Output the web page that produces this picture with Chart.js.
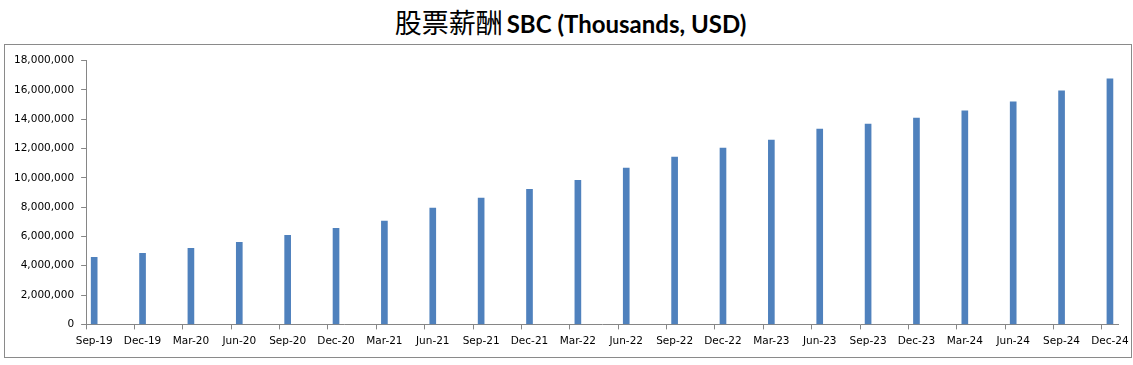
<!DOCTYPE html>
<html>
<head>
<meta charset="utf-8">
<script src="https://cdn.jsdelivr.net/npm/chart.js@4"></script>
<style>
  html, body { margin: 0; padding: 0; background: #fff; }
  body { width: 1133px; height: 365px; position: relative; overflow: hidden; }
  #title {
    position: absolute; left: 4px; top: 0; width: 1133px; height: 44px;
    text-align: center; line-height: 44px; color: #000; white-space: nowrap;
  }
  #title .zh { font-family: "Noto Sans CJK SC", sans-serif; font-size: 27px; font-weight: 400; }
  #title .en { font-family: Lato, "Open Sans", sans-serif; font-size: 24px; font-weight: 700; }
  #frame {
    position: absolute; left: 4px; top: 44px; width: 1126px; height: 312px;
    border: 1px solid #8a8a8a;
  }
  #myChart { display: block; }
</style>
</head>
<body>
<div id="title"><span class="zh">股票薪酬</span> <span class="en">SBC (Thousands, USD)</span></div>
<div id="frame"><canvas id="myChart" width="1126" height="312"></canvas></div>
<script>
// quarterly stock based compensation, thousands of USD
const quarters = ['Sep-19', 'Dec-19', 'Mar-20', 'Jun-20', 'Sep-20', 'Dec-20', 'Mar-21', 'Jun-21',
  'Sep-21', 'Dec-21', 'Mar-22', 'Jun-22', 'Sep-22', 'Dec-22', 'Mar-23', 'Jun-23',
  'Sep-23', 'Dec-23', 'Mar-24', 'Jun-24', 'Sep-24', 'Dec-24'];
const sbc = [4570000, 4850000, 5190000, 5600000, 6080000, 6560000, 7040000, 7930000,
  8610000, 9220000, 9820000, 10660000, 11410000, 12030000, 12580000, 13330000,
  13670000, 14080000, 14560000, 15180000, 15930000, 16750000];
const yTicks = [0, 2000000, 4000000, 6000000, 8000000, 10000000, 12000000, 14000000, 16000000, 18000000];

// the source axis runs by month, with a label every third month
const monthLabels = [];
const monthValues = [];
quarters.forEach((q, i) => {
  monthLabels.push(q);
  monthValues.push(sbc[i]);
  if (i < quarters.length - 1) {
    monthLabels.push('', '');
    monthValues.push(null, null);
  }
});

const axisGrey = '#868686';
const tickFont = { family: 'DejaVu Sans', size: 10.5 };

const config = {
  type: 'bar',
  data: {
    labels: monthLabels,
    datasets: [{
      label: 'SBC',
      data: monthValues,
      backgroundColor: '#4f81bd',
      borderWidth: 0,
      barThickness: 6
    }]
  },
  options: {
    responsive: false,
    animation: false,
    layout: { padding: { left: 2, right: 0, top: 15.5, bottom: 3 } },
    plugins: {
      legend: { display: false },
      title: { display: false },
      tooltip: { enabled: false }
    },
    scales: {
      x: {
        offset: true,
        afterFit: scale => { scale.paddingRight = 13; },
        grid: {
          offset: true,
          drawOnChartArea: false,
          tickLength: 5,
          color: ctx => (ctx.index % 3 === 0 ? axisGrey : 'rgba(0,0,0,0)')
        },
        border: { color: axisGrey },
        ticks: {
          autoSkip: false,
          maxRotation: 0,
          minRotation: 0,
          padding: 6,
          color: '#000',
          font: tickFont,
          callback: function (value) { return this.getLabelForValue(value); }
        }
      },
      y: {
        min: 0,
        max: yTicks[yTicks.length - 1],
        afterBuildTicks: scale => { scale.ticks = yTicks.map(v => ({ value: v })); },
        grid: { drawOnChartArea: false, tickLength: 5, color: axisGrey },
        border: { color: axisGrey },
        ticks: {
          padding: 7,
          color: '#000',
          font: tickFont,
          callback: v => v.toLocaleString('en-US')
        }
      }
    }
  }
};

const myChart = new Chart(document.getElementById('myChart'), config);
</script>
</body>
</html>
